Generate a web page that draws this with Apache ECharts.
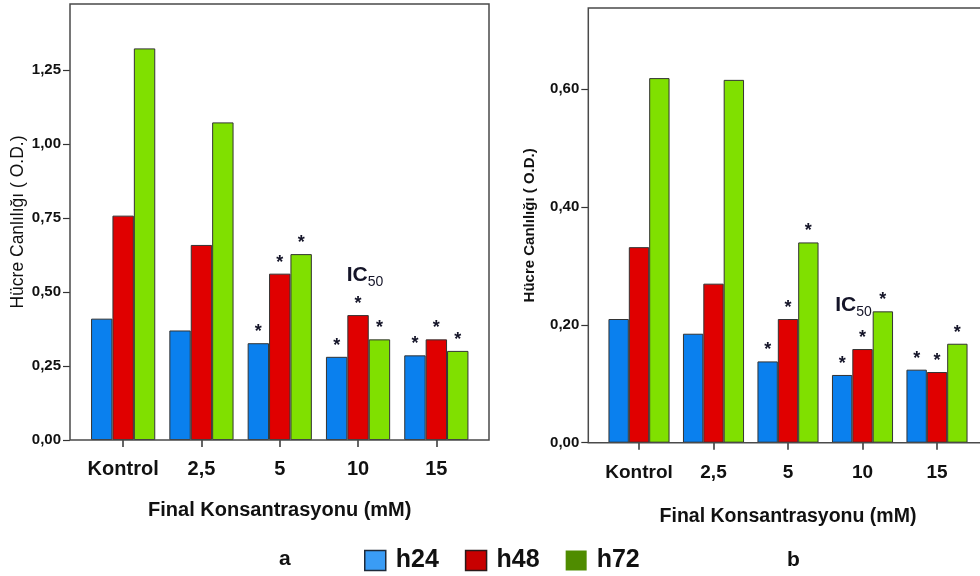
<!DOCTYPE html>
<html>
<head>
<meta charset="utf-8">
<script src="https://cdn.jsdelivr.net/npm/echarts@6/dist/echarts.min.js"></script>
<style>
  html, body { margin: 0; padding: 0; background: #fff; }
  #chart { width: 980px; height: 576px; }
</style>
</head>
<body>
<div id="chart"></div>
<script>
// Concentration groups (x axis)
const categories = ['Kontrol', '2,5', '5', '10', '15'];
const seriesNames = ['h24', 'h48', 'h72'];

// Panel a: cell viability (O.D.)
const a_h24 = [0.410, 0.370, 0.327, 0.281, 0.286];
const a_h48 = [0.758, 0.659, 0.562, 0.422, 0.340];
const a_h72 = [1.323, 1.073, 0.628, 0.340, 0.301];

// Panel b: cell viability (O.D.)
const b_h24 = [0.210, 0.185, 0.138, 0.115, 0.124];
const b_h48 = [0.332, 0.270, 0.210, 0.159, 0.120];
const b_h72 = [0.619, 0.616, 0.340, 0.223, 0.168];

// Groups marked as significant (*) for every time point
const significant = [false, false, true, true, true];
// Group where the IC50 note is placed
const icGroup = 3;

// Tick labels
const a_ticks = [0, 0.25, 0.5, 0.75, 1.0, 1.25];
const b_ticks = [0, 0.2, 0.4, 0.6];

const FONT = "'Liberation Sans', Arial, Helvetica, sans-serif";
const barColors = { h24: '#0a80ee', h48: '#e00000', h72: '#80e000' };

// Panel layout (plot frame and inner category band area)
const panels = [
  { frame: { x: 70, y: 4, w: 419, h: 436 }, pad: 14, max: 1.473, ticks: a_ticks,
    labelSize: 20, labelMargin: 19, nameSize: 20, nameGap: 60, yNameGap: 43,
    yName: { fontSize: 17.5, fontWeight: 'normal' }, icOffset: [7, -40] },
  { frame: { x: 588.3, y: 8, w: 420, h: 434.7 }, pad: 13.45, max: 0.738, ticks: b_ticks,
    labelSize: 19, labelMargin: 21, nameSize: 19.5, nameGap: 64, yNameGap: 51,
    yName: { fontSize: 15, fontWeight: 'bold' }, icOffset: [-9, -44] }
];
const bandWidths = [391.5, 372.5];

const fmt = v => v.toFixed(2).replace('.', ',');

const grids = panels.map((p, i) => ({
  left: p.frame.x + p.pad, top: p.frame.y, width: bandWidths[i], height: p.frame.h
}));

const xAxes = panels.map((p, i) => ({
  type: 'category', gridIndex: i, data: categories,
  name: 'Final Konsantrasyonu (mM)', nameLocation: 'middle', nameGap: p.nameGap,
  nameTextStyle: { fontFamily: FONT, fontSize: p.nameSize, fontWeight: 'bold', color: '#111' },
  axisLine: { show: false },
  axisTick: { show: true, alignWithLabel: true, length: 7, lineStyle: { color: '#333', width: 1.5 } },
  axisLabel: { interval: 0, fontFamily: FONT, fontSize: p.labelSize, fontWeight: 'bold', color: '#111', margin: p.labelMargin }
}));

const yAxes = panels.map((p, i) => ({
  type: 'value', gridIndex: i, min: 0, max: p.max, offset: p.pad,
  name: 'Hücre Canlılığı ( O.D.)', nameLocation: 'middle', nameGap: p.yNameGap,
  nameTextStyle: Object.assign({ fontFamily: FONT, color: '#111' }, p.yName),
  axisLine: { show: false },
  splitLine: { show: false },
  axisTick: { show: true, length: 7, customValues: p.ticks, lineStyle: { color: '#333', width: 1.2 } },
  axisLabel: { fontFamily: FONT, fontSize: 15, fontWeight: 'bold', color: '#111', margin: 9,
               customValues: p.ticks, formatter: fmt }
}));

const starLabel = {
  show: true, position: 'top', distance: 2,
  fontFamily: FONT, fontSize: 18, fontWeight: 'bold', color: '#141428',
  formatter: prm => (significant[prm.dataIndex] ? '*' : '')
};

const icMark = (value, i) => ({
  symbol: 'rect', symbolSize: 0, silent: true,
  data: [{ coord: [icGroup, value] }],
  label: {
    show: true, position: 'inside', offset: panels[i].icOffset,
    formatter: '{ic|IC}{sub|50}',
    rich: {
      ic: { fontFamily: FONT, fontSize: 21, fontWeight: 'bold', color: '#141428', verticalAlign: 'bottom', lineHeight: 22 },
      sub: { fontFamily: FONT, fontSize: 14, color: '#141428', verticalAlign: 'bottom', lineHeight: 18, padding: [0, 0, -3, 0] }
    }
  }
});

const panelData = [[a_h24, a_h48, a_h72], [b_h24, b_h48, b_h72]];
const series = [];
panelData.forEach((sets, i) => {
  sets.forEach((vals, k) => {
    const name = seriesNames[k];
    const s = {
      name, type: 'bar', xAxisIndex: i, yAxisIndex: i, data: vals,
      barGap: '0%', barCategoryGap: '18%',
      itemStyle: { color: barColors[name], borderColor: '#333', borderWidth: 1 },
      label: starLabel,
      emphasis: { disabled: true }
    };
    if (name === 'h48') s.markPoint = icMark(vals[icGroup], i);
    series.push(s);
  });
});

// Plot frames drawn around each panel
const frames = panels.map(p => ({
  type: 'rect', z: 10, silent: true,
  shape: { x: p.frame.x, y: p.frame.y, width: p.frame.w, height: p.frame.h },
  style: { fill: 'none', stroke: '#4a4a4a', lineWidth: 1.5 }
}));

const legendText = { fontFamily: FONT, fontSize: 25, fontWeight: 'bold', color: '#111', padding: [0, 0, 0, 5] };

const chart = echarts.init(document.getElementById('chart'), null, { renderer: 'canvas' });
chart.setOption({
  animation: false,
  backgroundColor: '#fff',
  textStyle: { fontFamily: FONT },
  title: [
    { text: 'a', left: 274, top: 544, textStyle: { fontFamily: FONT, fontSize: 21, fontWeight: 'bold', color: '#111' } },
    { text: 'b', left: 782, top: 545, textStyle: { fontFamily: FONT, fontSize: 21, fontWeight: 'bold', color: '#111' } }
  ],
  legend: {
    left: 359, top: 543, icon: 'rect', itemWidth: 21, itemHeight: 20, itemGap: 26,
    selectedMode: false,
    textStyle: legendText,
    data: [
      { name: 'h24', itemStyle: { color: '#3a9cf5', borderColor: '#1e2a3a', borderWidth: 1.5 } },
      { name: 'h48', itemStyle: { color: '#c80000', borderColor: '#2a1a1a', borderWidth: 1.5 } },
      { name: 'h72', itemStyle: { color: '#4f8c00', borderWidth: 0 } }
    ]
  },
  grid: grids,
  xAxis: xAxes,
  yAxis: yAxes,
  series,
  graphic: frames
});
</script>
</body>
</html>
